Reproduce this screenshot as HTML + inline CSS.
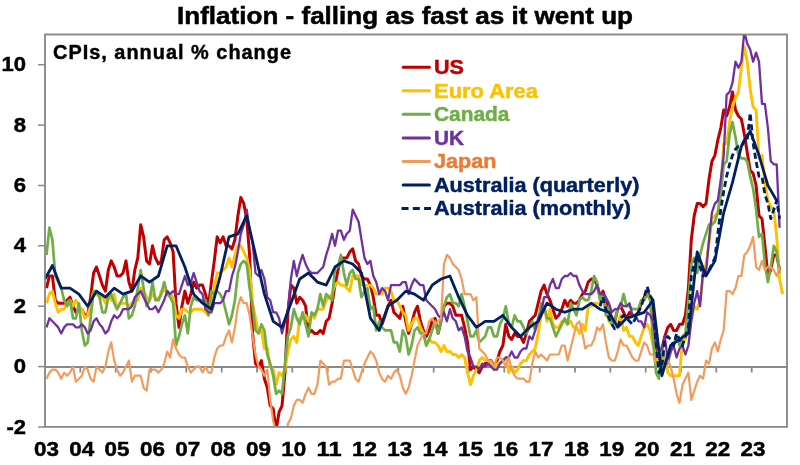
<!DOCTYPE html>
<html><head><meta charset="utf-8"><style>
html,body{margin:0;padding:0;background:#fff;width:800px;height:465px;overflow:hidden}
svg{display:block;filter:blur(0.3px)}
text{font-family:"Liberation Sans",sans-serif;font-weight:bold;stroke:currentColor}
</style></head><body>
<svg width="800" height="465" viewBox="0 0 800 465">
<rect x="0" y="0" width="800" height="465" fill="#fff"/>
<text x="177" y="23.9" font-size="23.5" textLength="456" lengthAdjust="spacingAndGlyphs" fill="#000" color="#000" stroke-width="0.5">Inflation - falling as fast as it went up</text>
<rect x="45" y="34.5" width="742" height="392.3" fill="none" stroke="#898989" stroke-width="1.5"/>
<g stroke="#898989" stroke-width="1.5">
<line x1="45" y1="367.0" x2="787" y2="367.0" stroke-width="2"/>
<line x1="80.3" y1="367.0" x2="80.3" y2="372.5" stroke-width="1.8"/>
<line x1="115.7" y1="367.0" x2="115.7" y2="372.5" stroke-width="1.8"/>
<line x1="151.0" y1="367.0" x2="151.0" y2="372.5" stroke-width="1.8"/>
<line x1="186.3" y1="367.0" x2="186.3" y2="372.5" stroke-width="1.8"/>
<line x1="221.7" y1="367.0" x2="221.7" y2="372.5" stroke-width="1.8"/>
<line x1="257.0" y1="367.0" x2="257.0" y2="372.5" stroke-width="1.8"/>
<line x1="292.3" y1="367.0" x2="292.3" y2="372.5" stroke-width="1.8"/>
<line x1="327.7" y1="367.0" x2="327.7" y2="372.5" stroke-width="1.8"/>
<line x1="363.0" y1="367.0" x2="363.0" y2="372.5" stroke-width="1.8"/>
<line x1="398.3" y1="367.0" x2="398.3" y2="372.5" stroke-width="1.8"/>
<line x1="433.7" y1="367.0" x2="433.7" y2="372.5" stroke-width="1.8"/>
<line x1="469.0" y1="367.0" x2="469.0" y2="372.5" stroke-width="1.8"/>
<line x1="504.3" y1="367.0" x2="504.3" y2="372.5" stroke-width="1.8"/>
<line x1="539.7" y1="367.0" x2="539.7" y2="372.5" stroke-width="1.8"/>
<line x1="575.0" y1="367.0" x2="575.0" y2="372.5" stroke-width="1.8"/>
<line x1="610.3" y1="367.0" x2="610.3" y2="372.5" stroke-width="1.8"/>
<line x1="645.7" y1="367.0" x2="645.7" y2="372.5" stroke-width="1.8"/>
<line x1="681.0" y1="367.0" x2="681.0" y2="372.5" stroke-width="1.8"/>
<line x1="716.3" y1="367.0" x2="716.3" y2="372.5" stroke-width="1.8"/>
<line x1="751.7" y1="367.0" x2="751.7" y2="372.5" stroke-width="1.8"/>
<line x1="38" y1="64.7" x2="45" y2="64.7"/>
<line x1="38" y1="125.1" x2="45" y2="125.1"/>
<line x1="38" y1="185.5" x2="45" y2="185.5"/>
<line x1="38" y1="245.8" x2="45" y2="245.8"/>
<line x1="38" y1="306.2" x2="45" y2="306.2"/>
<line x1="38" y1="366.6" x2="45" y2="366.6"/>
<line x1="38" y1="427.0" x2="45" y2="427.0"/>
</g>
<g font-size="20.5" fill="#000" color="#000" stroke-width="0.45">
<text x="1.5" y="71.2" textLength="24.5" lengthAdjust="spacingAndGlyphs">10</text>
<text x="13.7" y="131.6" textLength="12.3" lengthAdjust="spacingAndGlyphs">8</text>
<text x="13.7" y="192.0" textLength="12.3" lengthAdjust="spacingAndGlyphs">6</text>
<text x="13.7" y="252.3" textLength="12.3" lengthAdjust="spacingAndGlyphs">4</text>
<text x="13.7" y="312.7" textLength="12.3" lengthAdjust="spacingAndGlyphs">2</text>
<text x="13.7" y="373.1" textLength="12.3" lengthAdjust="spacingAndGlyphs">0</text>
<text x="6.5" y="433.5" textLength="19.5" lengthAdjust="spacingAndGlyphs">-2</text>
<text x="33.9" y="456.2" textLength="25.0" lengthAdjust="spacingAndGlyphs">03</text>
<text x="69.2" y="456.2" textLength="25.0" lengthAdjust="spacingAndGlyphs">04</text>
<text x="104.6" y="456.2" textLength="25.0" lengthAdjust="spacingAndGlyphs">05</text>
<text x="139.9" y="456.2" textLength="25.0" lengthAdjust="spacingAndGlyphs">06</text>
<text x="175.2" y="456.2" textLength="25.0" lengthAdjust="spacingAndGlyphs">07</text>
<text x="210.6" y="456.2" textLength="25.0" lengthAdjust="spacingAndGlyphs">08</text>
<text x="245.9" y="456.2" textLength="25.0" lengthAdjust="spacingAndGlyphs">09</text>
<text x="281.2" y="456.2" textLength="25.0" lengthAdjust="spacingAndGlyphs">10</text>
<text x="316.6" y="456.2" textLength="25.0" lengthAdjust="spacingAndGlyphs">11</text>
<text x="351.9" y="456.2" textLength="25.0" lengthAdjust="spacingAndGlyphs">12</text>
<text x="387.2" y="456.2" textLength="25.0" lengthAdjust="spacingAndGlyphs">13</text>
<text x="422.6" y="456.2" textLength="25.0" lengthAdjust="spacingAndGlyphs">14</text>
<text x="457.9" y="456.2" textLength="25.0" lengthAdjust="spacingAndGlyphs">15</text>
<text x="493.2" y="456.2" textLength="25.0" lengthAdjust="spacingAndGlyphs">16</text>
<text x="528.6" y="456.2" textLength="25.0" lengthAdjust="spacingAndGlyphs">17</text>
<text x="563.9" y="456.2" textLength="25.0" lengthAdjust="spacingAndGlyphs">18</text>
<text x="599.2" y="456.2" textLength="25.0" lengthAdjust="spacingAndGlyphs">19</text>
<text x="634.6" y="456.2" textLength="25.0" lengthAdjust="spacingAndGlyphs">20</text>
<text x="669.9" y="456.2" textLength="25.0" lengthAdjust="spacingAndGlyphs">21</text>
<text x="705.2" y="456.2" textLength="25.0" lengthAdjust="spacingAndGlyphs">22</text>
<text x="740.6" y="456.2" textLength="25.0" lengthAdjust="spacingAndGlyphs">23</text>
</g>
<g font-size="19.3" stroke-width="0.45">
<text x="53" y="58.5" font-size="19.9" textLength="238" lengthAdjust="spacing" fill="#000" color="#000">CPIs, annual % change</text>
<line x1="403.2" y1="67.2" x2="429.4" y2="67.2" stroke="#C00000" stroke-width="3" stroke-linecap="round"/>
<text x="434" y="74.1" fill="#C00000" color="#C00000" textLength="29.9" lengthAdjust="spacingAndGlyphs">US</text>
<line x1="403.2" y1="90.8" x2="429.4" y2="90.8" stroke="#FFC000" stroke-width="3" stroke-linecap="round"/>
<text x="434" y="97.7" fill="#FFC000" color="#FFC000" textLength="104.0" lengthAdjust="spacingAndGlyphs">Euro Area</text>
<line x1="403.2" y1="114.3" x2="429.4" y2="114.3" stroke="#70AD47" stroke-width="3" stroke-linecap="round"/>
<text x="434" y="121.2" fill="#70AD47" color="#70AD47" textLength="75.3" lengthAdjust="spacingAndGlyphs">Canada</text>
<line x1="403.2" y1="137.9" x2="429.4" y2="137.9" stroke="#7030A0" stroke-width="3" stroke-linecap="round"/>
<text x="434" y="144.8" fill="#7030A0" color="#7030A0" textLength="30.1" lengthAdjust="spacingAndGlyphs">UK</text>
<line x1="403.2" y1="161.4" x2="429.4" y2="161.4" stroke="#F29A5C" stroke-width="3" stroke-linecap="round"/>
<text x="434" y="168.3" fill="#EC7B33" color="#EC7B33" textLength="62.4" lengthAdjust="spacingAndGlyphs">Japan</text>
<line x1="403.2" y1="184.9" x2="429.4" y2="184.9" stroke="#002060" stroke-width="3" stroke-linecap="round"/>
<text x="434" y="191.8" fill="#002060" color="#002060" textLength="205.4" lengthAdjust="spacingAndGlyphs">Australia (quarterly)</text>
<line x1="401.5" y1="208.5" x2="431" y2="208.5" stroke="#002060" stroke-width="3" stroke-dasharray="7,4.3"/>
<text x="434" y="215.4" fill="#002060" color="#002060" textLength="197.0" lengthAdjust="spacingAndGlyphs">Australia (monthly)</text>
</g>
<defs><clipPath id="pc"><rect x="45" y="34.5" width="742" height="392.5"/></clipPath></defs>
<g clip-path="url(#pc)">
<polyline fill="none" stroke="#C00000" stroke-width="3.0" stroke-linejoin="round" points="46.5,288.1 49.4,276.0 52.4,276.0 55.3,300.2 58.2,303.2 61.2,303.2 64.1,303.2 67.1,300.2 70.0,297.2 73.0,306.2 75.9,312.3 78.9,309.2 81.8,309.2 84.8,315.3 87.7,315.3 90.6,297.2 93.6,273.0 96.5,267.0 99.5,276.0 102.4,285.1 105.4,291.1 108.3,270.0 111.2,260.9 114.2,267.0 117.1,276.0 120.1,276.0 123.0,273.0 126.0,260.9 128.9,282.1 131.9,291.1 134.8,270.0 137.8,257.9 140.7,224.7 143.6,236.8 146.6,260.9 149.5,264.0 152.5,245.8 155.4,257.9 158.4,264.0 161.3,260.9 164.2,239.8 167.2,236.8 170.1,242.8 173.1,251.9 176.0,303.2 179.0,327.4 181.9,306.2 184.9,291.1 187.8,303.2 190.8,294.1 193.7,282.1 196.6,288.1 199.6,285.1 202.5,285.1 205.5,294.1 208.4,306.2 211.4,282.1 214.3,260.9 217.2,236.8 220.2,242.8 223.1,236.8 226.1,245.8 229.0,245.8 232.0,248.9 234.9,239.8 237.9,215.7 240.8,197.5 243.8,203.6 246.7,218.7 249.6,254.9 252.6,333.4 255.5,363.6 258.5,366.6 261.4,360.6 264.4,378.7 267.3,387.7 270.2,405.8 273.2,408.9 276.1,430.0 279.1,411.9 282.0,405.8 285.0,372.6 287.9,312.3 290.9,285.1 293.8,288.1 296.8,303.2 299.7,297.2 302.6,300.2 305.6,306.2 308.5,333.4 311.5,330.4 314.4,333.4 317.4,333.4 320.3,330.4 323.2,333.4 326.2,321.3 329.1,318.3 332.1,303.2 335.0,285.1 338.0,270.0 340.9,257.9 343.9,257.9 346.8,257.9 349.8,251.9 352.7,248.9 355.6,260.9 358.6,264.0 361.5,276.0 364.5,279.0 367.4,279.0 370.4,285.1 373.3,297.2 376.2,315.3 379.2,315.3 382.1,324.3 385.1,315.3 388.0,306.2 391.0,300.2 393.9,312.3 396.9,315.3 399.8,318.3 402.8,306.2 405.7,321.3 408.6,333.4 411.6,324.3 414.5,312.3 417.5,306.2 420.4,321.3 423.4,330.4 426.3,336.4 429.2,330.4 432.2,321.3 435.1,318.3 438.1,333.4 441.0,321.3 444.0,306.2 446.9,303.2 449.9,303.2 452.8,306.2 455.8,315.3 458.7,315.3 461.6,315.3 464.6,327.4 467.5,342.4 470.5,369.6 473.4,366.6 476.4,369.6 479.3,372.6 482.2,366.6 485.2,363.6 488.1,360.6 491.1,360.6 494.0,366.6 497.0,360.6 499.9,351.5 502.9,345.5 505.8,324.3 508.8,336.4 511.7,339.4 514.6,333.4 517.6,336.4 520.5,336.4 523.5,342.4 526.4,333.4 529.4,321.3 532.3,318.3 535.2,315.3 538.2,303.2 541.1,291.1 544.1,285.1 547.0,294.1 550.0,300.2 552.9,309.2 555.9,318.3 558.8,315.3 561.8,309.2 564.7,300.2 567.6,306.2 570.6,300.2 573.5,303.2 576.5,303.2 579.4,300.2 582.4,294.1 585.3,291.1 588.2,282.1 591.2,279.0 594.1,279.0 597.1,285.1 600.0,297.2 603.0,291.1 605.9,300.2 608.9,309.2 611.8,318.3 614.8,321.3 617.7,309.2 620.6,306.2 623.6,312.3 626.5,318.3 629.5,312.3 632.4,315.3 635.4,315.3 638.3,312.3 641.2,303.2 644.2,297.2 647.1,291.1 650.1,297.2 653.0,321.3 656.0,357.5 658.9,363.6 661.9,348.5 664.8,336.4 667.8,327.4 670.7,324.3 673.6,330.4 676.6,330.4 679.5,324.3 682.5,324.3 685.4,315.3 688.4,288.1 691.3,239.8 694.2,215.7 697.2,203.6 700.1,203.6 703.1,206.6 706.0,203.6 709.0,179.4 711.9,161.3 714.9,155.3 717.8,140.2 720.8,128.1 723.7,110.0 726.6,116.0 729.6,107.0 732.5,91.9 735.5,110.0 738.4,116.0 741.4,119.0 744.3,134.1 747.2,152.3 750.2,170.4 753.1,173.4 756.1,185.5 759.0,215.7 762.0,218.7 764.9,245.8 767.9,276.0 770.8,270.0 773.8,254.9 776.7,254.9 779.6,270.0"/>
<polyline fill="none" stroke="#FFC000" stroke-width="2.9" stroke-linejoin="round" points="46.5,303.2 49.4,294.1 52.4,291.1 55.3,303.2 58.2,312.3 61.2,309.2 64.1,309.2 67.1,303.2 70.0,300.2 73.0,306.2 75.9,300.2 78.9,306.2 81.8,309.2 84.8,318.3 87.7,315.3 90.6,306.2 93.6,291.1 96.5,294.1 99.5,297.2 102.4,297.2 105.4,303.2 108.3,294.1 111.2,300.2 114.2,294.1 117.1,309.2 120.1,303.2 123.0,303.2 126.0,303.2 128.9,306.2 131.9,303.2 134.8,300.2 137.8,300.2 140.7,288.1 143.6,291.1 146.6,297.2 149.5,300.2 152.5,294.1 155.4,297.2 158.4,300.2 161.3,291.1 164.2,291.1 167.2,291.1 170.1,294.1 173.1,297.2 176.0,315.3 179.0,318.3 181.9,309.2 184.9,309.2 187.8,312.3 190.8,312.3 193.7,309.2 196.6,309.2 199.6,309.2 202.5,309.2 205.5,312.3 208.4,315.3 211.4,303.2 214.3,288.1 217.2,273.0 220.2,273.0 223.1,270.0 226.1,267.0 229.0,257.9 232.0,267.0 234.9,254.9 237.9,245.8 240.8,245.8 243.8,251.9 246.7,257.9 249.6,270.0 252.6,303.2 255.5,318.3 258.5,333.4 261.4,330.4 264.4,348.5 267.3,348.5 270.2,366.6 273.2,369.6 276.1,384.7 279.1,372.6 282.0,375.7 285.0,369.6 287.9,351.5 290.9,339.4 293.8,336.4 296.8,342.4 299.7,318.3 302.6,318.3 305.6,315.3 308.5,321.3 311.5,315.3 314.4,318.3 317.4,309.2 320.3,309.2 323.2,309.2 326.2,300.2 329.1,297.2 332.1,294.1 335.0,285.1 338.0,282.1 340.9,285.1 343.9,285.1 346.8,288.1 349.8,291.1 352.7,276.0 355.6,276.0 358.6,276.0 361.5,285.1 364.5,285.1 367.4,285.1 370.4,285.1 373.3,288.1 376.2,294.1 379.2,294.1 382.1,294.1 385.1,288.1 388.0,288.1 391.0,291.1 393.9,300.2 396.9,300.2 399.8,306.2 402.8,312.3 405.7,315.3 408.6,330.4 411.6,324.3 414.5,318.3 417.5,318.3 420.4,327.4 423.4,333.4 426.3,345.5 429.2,339.4 432.2,342.4 435.1,342.4 438.1,345.5 441.0,351.5 444.0,345.5 446.9,351.5 449.9,351.5 452.8,354.5 455.8,354.5 458.7,357.5 461.6,354.5 464.6,357.5 467.5,372.6 470.5,384.7 473.4,375.7 476.4,369.6 479.3,360.6 482.2,357.5 485.2,360.6 488.1,360.6 491.1,363.6 494.0,369.6 497.0,363.6 499.9,363.6 502.9,360.6 505.8,357.5 508.8,372.6 511.7,366.6 514.6,372.6 517.6,369.6 520.5,363.6 523.5,360.6 526.4,360.6 529.4,354.5 532.3,351.5 535.2,348.5 538.2,333.4 541.1,315.3 544.1,306.2 547.0,321.3 550.0,309.2 552.9,324.3 555.9,327.4 558.8,327.4 561.8,321.3 564.7,321.3 567.6,324.3 570.6,321.3 573.5,327.4 576.5,327.4 579.4,333.4 582.4,324.3 585.3,330.4 588.2,306.2 591.2,306.2 594.1,303.2 597.1,303.2 600.0,303.2 603.0,297.2 605.9,309.2 608.9,321.3 611.8,324.3 614.8,321.3 617.7,324.3 620.6,315.3 623.6,330.4 626.5,327.4 629.5,336.4 632.4,336.4 635.4,342.4 638.3,345.5 641.2,336.4 644.2,327.4 647.1,324.3 650.1,330.4 653.0,345.5 656.0,357.5 658.9,363.6 661.9,357.5 664.8,354.5 667.8,372.6 670.7,375.7 673.6,375.7 676.6,375.7 679.5,375.7 682.5,339.4 685.4,339.4 688.4,327.4 691.3,318.3 694.2,306.2 697.2,309.2 700.1,300.2 703.1,276.0 706.0,264.0 709.0,242.8 711.9,218.7 714.9,215.7 717.8,212.6 720.8,188.5 723.7,143.2 726.6,143.2 729.6,122.1 732.5,107.0 735.5,97.9 738.4,91.9 741.4,67.7 744.3,46.6 747.2,61.7 750.2,88.9 753.1,107.0 756.1,110.0 759.0,158.3 762.0,155.3 764.9,182.4 767.9,200.6 770.8,206.6 773.8,209.6 776.7,236.8 779.6,279.0 782.6,294.1"/>
<polyline fill="none" stroke="#70AD47" stroke-width="2.7" stroke-linejoin="round" points="46.5,254.9 49.4,227.7 52.4,239.8 55.3,276.0 58.2,282.1 61.2,288.1 64.1,300.2 67.1,306.2 70.0,300.2 73.0,318.3 75.9,318.3 78.9,303.2 81.8,330.4 84.8,345.5 87.7,342.4 90.6,318.3 93.6,291.1 96.5,291.1 99.5,297.2 102.4,312.3 105.4,312.3 108.3,297.2 111.2,294.1 114.2,303.2 117.1,309.2 120.1,303.2 123.0,297.2 126.0,294.1 128.9,318.3 131.9,315.3 134.8,306.2 137.8,288.1 140.7,270.0 143.6,288.1 146.6,306.2 149.5,300.2 152.5,282.1 155.4,300.2 158.4,300.2 161.3,294.1 164.2,282.1 167.2,294.1 170.1,297.2 173.1,303.2 176.0,345.5 179.0,336.4 181.9,324.3 184.9,315.3 187.8,333.4 190.8,306.2 193.7,297.2 196.6,300.2 199.6,300.2 202.5,300.2 205.5,300.2 208.4,315.3 211.4,291.1 214.3,294.1 217.2,291.1 220.2,294.1 223.1,300.2 226.1,312.3 229.0,324.3 232.0,315.3 234.9,300.2 237.9,273.0 240.8,264.0 243.8,260.9 246.7,264.0 249.6,288.1 252.6,306.2 255.5,330.4 258.5,333.4 261.4,324.3 264.4,330.4 267.3,354.5 270.2,363.6 273.2,375.7 276.1,393.8 279.1,390.8 282.0,393.8 285.0,363.6 287.9,336.4 290.9,327.4 293.8,309.2 296.8,318.3 299.7,324.3 302.6,312.3 305.6,324.3 308.5,336.4 311.5,312.3 314.4,315.3 317.4,309.2 320.3,294.1 323.2,306.2 326.2,294.1 329.1,297.2 332.1,300.2 335.0,267.0 338.0,267.0 340.9,254.9 343.9,273.0 346.8,285.1 349.8,273.0 352.7,270.0 355.6,279.0 358.6,279.0 361.5,297.2 364.5,291.1 367.4,288.1 370.4,309.2 373.3,306.2 376.2,330.4 379.2,321.3 382.1,327.4 385.1,330.4 388.0,330.4 391.0,330.4 393.9,342.4 396.9,342.4 399.8,351.5 402.8,330.4 405.7,336.4 408.6,354.5 411.6,345.5 414.5,330.4 417.5,327.4 420.4,333.4 423.4,333.4 426.3,345.5 429.2,339.4 432.2,330.4 435.1,321.3 438.1,333.4 441.0,321.3 444.0,306.2 446.9,297.2 449.9,294.1 452.8,303.2 455.8,303.2 458.7,306.2 461.6,294.1 464.6,306.2 467.5,321.3 470.5,336.4 473.4,336.4 476.4,330.4 479.3,342.4 482.2,339.4 485.2,336.4 488.1,327.4 491.1,327.4 494.0,336.4 497.0,336.4 499.9,324.3 502.9,318.3 505.8,306.2 508.8,324.3 511.7,327.4 514.6,315.3 517.6,321.3 520.5,321.3 523.5,327.4 526.4,333.4 529.4,327.4 532.3,321.3 535.2,330.4 538.2,321.3 541.1,303.2 544.1,306.2 547.0,318.3 550.0,318.3 552.9,327.4 555.9,336.4 558.8,330.4 561.8,324.3 564.7,318.3 567.6,324.3 570.6,303.2 573.5,309.2 576.5,315.3 579.4,300.2 582.4,297.2 585.3,300.2 588.2,300.2 591.2,291.1 594.1,276.0 597.1,282.1 600.0,300.2 603.0,294.1 605.9,315.3 608.9,306.2 611.8,324.3 614.8,321.3 617.7,309.2 620.6,306.2 623.6,294.1 626.5,306.2 629.5,306.2 632.4,309.2 635.4,309.2 638.3,309.2 641.2,300.2 644.2,300.2 647.1,294.1 650.1,300.2 653.0,339.4 656.0,372.6 658.9,378.7 661.9,345.5 664.8,363.6 667.8,363.6 670.7,351.5 673.6,345.5 676.6,336.4 679.5,345.5 682.5,336.4 685.4,333.4 688.4,300.2 691.3,264.0 694.2,257.9 697.2,273.0 700.1,254.9 703.1,242.8 706.0,233.8 709.0,224.7 711.9,224.7 714.9,221.7 717.8,212.6 720.8,194.5 723.7,164.3 726.6,161.3 729.6,134.1 732.5,122.1 735.5,137.2 738.4,155.3 741.4,158.3 744.3,158.3 747.2,161.3 750.2,176.4 753.1,188.5 756.1,209.6 759.0,236.8 762.0,233.8 764.9,264.0 767.9,282.1 770.8,267.0 773.8,245.8 776.7,251.9 779.6,273.0"/>
<polyline fill="none" stroke="#7030A0" stroke-width="2.3" stroke-linejoin="round" points="46.5,327.4 49.4,318.3 52.4,321.3 55.3,324.3 58.2,327.4 61.2,333.4 64.1,327.4 67.1,324.3 70.0,324.3 73.0,324.3 75.9,327.4 78.9,327.4 81.8,324.3 84.8,327.4 87.7,333.4 90.6,330.4 93.6,321.3 96.5,318.3 99.5,324.3 102.4,327.4 105.4,333.4 108.3,330.4 111.2,321.3 114.2,315.3 117.1,318.3 120.1,315.3 123.0,309.2 126.0,309.2 128.9,309.2 131.9,306.2 134.8,297.2 137.8,294.1 140.7,291.1 143.6,297.2 146.6,303.2 149.5,309.2 152.5,309.2 155.4,306.2 158.4,312.3 161.3,306.2 164.2,300.2 167.2,291.1 170.1,294.1 173.1,291.1 176.0,294.1 179.0,294.1 181.9,285.1 184.9,276.0 187.8,285.1 190.8,282.1 193.7,273.0 196.6,282.1 199.6,291.1 202.5,294.1 205.5,309.2 208.4,312.3 211.4,312.3 214.3,303.2 217.2,303.2 220.2,303.2 223.1,300.2 226.1,291.1 229.0,291.1 232.0,276.0 234.9,267.0 237.9,251.9 240.8,233.8 243.8,224.7 246.7,209.6 249.6,230.7 252.6,242.8 255.5,273.0 258.5,276.0 261.4,270.0 264.4,279.0 267.3,297.2 270.2,300.2 273.2,312.3 276.1,312.3 279.1,318.3 282.0,333.4 285.0,321.3 287.9,309.2 290.9,279.0 293.8,260.9 296.8,276.0 299.7,264.0 302.6,254.9 305.6,264.0 308.5,270.0 311.5,273.0 314.4,273.0 317.4,273.0 320.3,270.0 323.2,267.0 326.2,254.9 329.1,245.8 332.1,233.8 335.0,245.8 338.0,230.7 340.9,230.7 343.9,239.8 346.8,233.8 349.8,230.7 352.7,209.6 355.6,215.7 358.6,221.7 361.5,239.8 364.5,257.9 367.4,264.0 370.4,260.9 373.3,276.0 376.2,282.1 379.2,294.1 382.1,288.1 385.1,291.1 388.0,300.2 391.0,285.1 393.9,285.1 396.9,285.1 399.8,285.1 402.8,282.1 405.7,282.1 408.6,294.1 411.6,285.1 414.5,279.0 417.5,282.1 420.4,285.1 423.4,285.1 426.3,300.2 429.2,303.2 432.2,306.2 435.1,309.2 438.1,315.3 441.0,318.3 444.0,312.3 446.9,321.3 449.9,309.2 452.8,318.3 455.8,321.3 458.7,330.4 461.6,327.4 464.6,336.4 467.5,351.5 470.5,357.5 473.4,366.6 476.4,366.6 479.3,369.6 482.2,363.6 485.2,366.6 488.1,363.6 491.1,366.6 494.0,369.6 497.0,369.6 499.9,363.6 502.9,360.6 505.8,357.5 508.8,357.5 511.7,351.5 514.6,357.5 517.6,357.5 520.5,351.5 523.5,348.5 526.4,348.5 529.4,336.4 532.3,339.4 535.2,330.4 538.2,318.3 541.1,312.3 544.1,297.2 547.0,297.2 550.0,285.1 552.9,279.0 555.9,288.1 558.8,288.1 561.8,279.0 564.7,276.0 567.6,276.0 570.6,273.0 573.5,276.0 576.5,276.0 579.4,285.1 582.4,291.1 585.3,294.1 588.2,294.1 591.2,294.1 594.1,291.1 597.1,285.1 600.0,294.1 603.0,294.1 605.9,297.2 608.9,303.2 611.8,312.3 614.8,309.2 617.7,309.2 620.6,303.2 623.6,306.2 626.5,306.2 629.5,303.2 632.4,315.3 635.4,315.3 638.3,321.3 641.2,321.3 644.2,327.4 647.1,312.3 650.1,315.3 653.0,321.3 656.0,342.4 658.9,351.5 661.9,348.5 664.8,336.4 667.8,360.6 670.7,351.5 673.6,345.5 676.6,357.5 679.5,348.5 682.5,345.5 685.4,354.5 688.4,345.5 691.3,321.3 694.2,303.2 697.2,291.1 700.1,306.2 703.1,270.0 706.0,273.0 709.0,239.8 711.9,212.6 714.9,203.6 717.8,200.6 720.8,179.4 723.7,155.3 726.6,94.9 729.6,91.9 732.5,82.8 735.5,61.7 738.4,67.7 741.4,61.7 744.3,31.5 747.2,43.6 750.2,49.6 753.1,61.7 756.1,52.6 759.0,61.7 762.0,103.9 764.9,103.9 767.9,128.1 770.8,161.3 773.8,164.3 776.7,164.3 779.6,227.7"/>
<polyline fill="none" stroke="#F39B5C" stroke-width="2.2" stroke-linejoin="round" points="46.5,378.7 49.4,372.6 52.4,369.6 55.3,369.6 58.2,372.6 61.2,378.7 64.1,372.6 67.1,375.7 70.0,372.6 73.0,366.6 75.9,381.7 78.9,378.7 81.8,375.7 84.8,366.6 87.7,369.6 90.6,378.7 93.6,381.7 96.5,366.6 99.5,369.6 102.4,372.6 105.4,366.6 108.3,351.5 111.2,342.4 114.2,360.6 117.1,369.6 120.1,375.7 123.0,372.6 126.0,366.6 128.9,360.6 131.9,381.7 134.8,375.7 137.8,375.7 140.7,375.7 143.6,387.7 146.6,390.8 149.5,369.6 152.5,369.6 155.4,369.6 158.4,372.6 161.3,369.6 164.2,363.6 167.2,351.5 170.1,357.5 173.1,339.4 176.0,348.5 179.0,354.5 181.9,357.5 184.9,357.5 187.8,366.6 190.8,372.6 193.7,369.6 196.6,366.6 199.6,366.6 202.5,372.6 205.5,366.6 208.4,372.6 211.4,372.6 214.3,357.5 217.2,348.5 220.2,345.5 223.1,345.5 226.1,336.4 229.0,330.4 232.0,342.4 234.9,327.4 237.9,306.2 240.8,297.2 243.8,303.2 246.7,303.2 249.6,315.3 252.6,336.4 255.5,354.5 258.5,366.6 261.4,369.6 264.4,375.7 267.3,369.6 270.2,399.8 273.2,420.9 276.1,433.0 279.1,433.0 282.0,433.0 285.0,442.1 287.9,424.0 290.9,417.9 293.8,405.8 296.8,399.8 299.7,399.8 302.6,402.8 305.6,393.8 308.5,387.7 311.5,393.8 314.4,393.8 317.4,384.7 320.3,360.6 323.2,363.6 326.2,366.6 329.1,384.7 332.1,381.7 335.0,381.7 338.0,378.7 340.9,378.7 343.9,360.6 346.8,360.6 349.8,360.6 352.7,369.6 355.6,378.7 358.6,381.7 361.5,372.6 364.5,363.6 367.4,357.5 370.4,351.5 373.3,354.5 376.2,360.6 379.2,372.6 382.1,378.7 385.1,381.7 388.0,375.7 391.0,378.7 393.9,372.6 396.9,369.6 399.8,375.7 402.8,387.7 405.7,393.8 408.6,387.7 411.6,375.7 414.5,360.6 417.5,345.5 420.4,339.4 423.4,333.4 426.3,333.4 429.2,321.3 432.2,318.3 435.1,324.3 438.1,321.3 441.0,318.3 444.0,264.0 446.9,254.9 449.9,257.9 452.8,264.0 455.8,267.0 458.7,270.0 461.6,279.0 464.6,294.1 467.5,294.1 470.5,294.1 473.4,300.2 476.4,297.2 479.3,348.5 482.2,351.5 485.2,354.5 488.1,360.6 491.1,360.6 494.0,366.6 497.0,357.5 499.9,357.5 502.9,360.6 505.8,366.6 508.8,357.5 511.7,369.6 514.6,375.7 517.6,378.7 520.5,378.7 523.5,378.7 526.4,381.7 529.4,381.7 532.3,363.6 535.2,351.5 538.2,357.5 541.1,354.5 544.1,357.5 547.0,360.6 550.0,354.5 552.9,354.5 555.9,354.5 558.8,354.5 561.8,345.5 564.7,345.5 567.6,360.6 570.6,348.5 573.5,336.4 576.5,324.3 579.4,321.3 582.4,333.4 585.3,348.5 588.2,345.5 591.2,345.5 594.1,339.4 597.1,327.4 600.0,330.4 603.0,324.3 605.9,342.4 608.9,357.5 611.8,360.6 614.8,360.6 617.7,351.5 620.6,339.4 623.6,345.5 626.5,345.5 629.5,351.5 632.4,357.5 635.4,360.6 638.3,360.6 641.2,351.5 644.2,342.4 647.1,345.5 650.1,354.5 653.0,354.5 656.0,363.6 658.9,363.6 661.9,363.6 664.8,357.5 667.8,360.6 670.7,366.6 673.6,378.7 676.6,393.8 679.5,402.8 682.5,384.7 685.4,378.7 688.4,372.6 691.3,399.8 694.2,390.8 697.2,381.7 700.1,375.7 703.1,378.7 706.0,360.6 709.0,363.6 711.9,348.5 714.9,342.4 717.8,351.5 720.8,339.4 723.7,330.4 726.6,291.1 729.6,291.1 732.5,294.1 735.5,288.1 738.4,276.0 741.4,276.0 744.3,254.9 747.2,251.9 750.2,245.8 753.1,236.8 756.1,267.0 759.0,270.0 762.0,260.9 764.9,270.0 767.9,267.0 770.8,267.0 773.8,270.0 776.7,276.0 779.6,267.0"/>
<polyline fill="none" stroke="#002060" stroke-width="2.8" stroke-linejoin="round" points="45.0,279.0 52.4,265.5 61.2,288.1 70.0,288.1 78.9,294.1 87.7,306.2 96.5,291.1 105.4,297.2 114.2,288.1 123.0,294.1 131.9,291.1 140.7,276.0 149.5,282.1 158.4,276.0 167.2,245.8 176.0,245.8 184.9,267.0 193.7,294.1 202.5,303.2 211.4,309.2 220.2,276.0 229.0,236.8 237.9,233.8 246.7,215.7 255.5,254.9 264.4,294.1 273.2,321.3 282.0,327.4 290.9,303.2 299.7,279.0 308.5,273.0 317.4,282.1 326.2,285.1 335.0,267.0 343.9,260.9 352.7,264.0 361.5,273.0 370.4,318.3 379.2,330.4 388.0,306.2 396.9,300.2 405.7,291.1 414.5,294.1 423.4,300.2 432.2,285.1 441.0,279.0 449.9,276.0 458.7,297.2 467.5,315.3 476.4,327.4 485.2,321.3 494.0,321.3 502.9,315.3 511.7,327.4 520.5,336.4 529.4,327.4 538.2,321.3 547.0,303.2 555.9,309.2 564.7,312.3 573.5,309.2 582.4,309.2 591.2,303.2 600.0,309.2 608.9,312.3 617.7,327.4 626.5,318.3 635.4,315.3 644.2,312.3 653.0,300.2 661.9,375.7 670.7,345.5 679.5,339.4 688.4,333.4 697.2,251.9 706.0,276.0 714.9,260.9 723.7,212.6 732.5,182.4 741.4,146.2 750.2,131.1 759.0,155.3 767.9,185.5 776.7,200.6"/>
<polyline fill="none" stroke="#002060" stroke-width="2.8" stroke-linejoin="round" stroke-dasharray="6,3.5" points="600.0,306.2 603.0,297.2 605.9,309.2 608.9,318.3 611.8,324.3 614.8,328.9 617.7,327.4 620.6,318.3 623.6,315.3 626.5,318.3 629.5,321.3 632.4,324.3 635.4,318.3 638.3,312.3 641.2,306.2 644.2,297.2 647.1,286.6 650.1,295.7 653.0,300.2 656.0,342.4 658.9,372.6 661.9,366.6 664.8,339.4 667.8,336.4 670.7,339.4 673.6,345.5 676.6,333.4 679.5,339.4 682.5,345.5 685.4,336.4 688.4,327.4 691.3,276.0 694.2,264.0 697.2,254.9 700.1,267.0 703.1,276.0 706.0,273.0 709.0,270.0 711.9,264.0 714.9,257.9 717.8,233.8 720.8,209.6 723.7,191.5 726.6,176.4 729.6,164.3 732.5,155.3 735.5,149.2 738.4,146.2 741.4,146.2 744.3,140.2 747.2,140.2 750.2,113.0 753.1,143.2 756.1,161.3 759.0,176.4 762.0,176.4 764.9,194.5 767.9,203.6 770.8,218.7 773.8,209.6 776.7,200.6 779.6,218.7"/>
</g>
<rect x="45" y="34.5" width="742" height="392.3" fill="none" stroke="#898989" stroke-width="1.5"/>
</svg>
</body></html>
